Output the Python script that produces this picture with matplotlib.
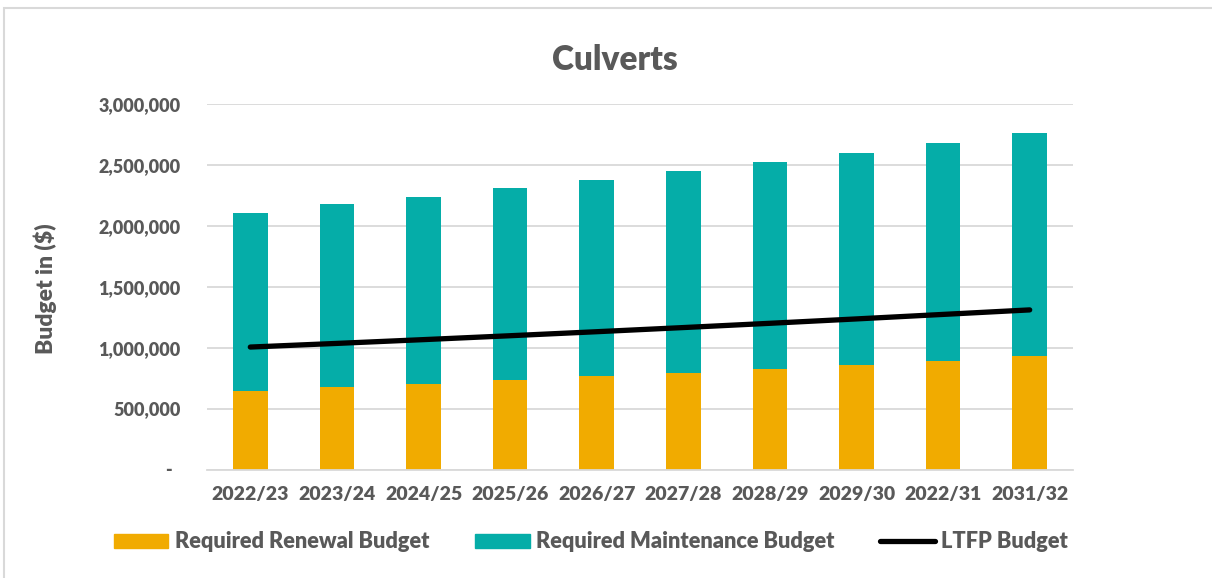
import matplotlib
matplotlib.use('Agg')
import matplotlib.pyplot as plt
from matplotlib.ticker import FuncFormatter, MultipleLocator
from matplotlib.patches import Rectangle
from matplotlib.lines import Line2D
import matplotlib.patches as mpatches

# Budget figures per financial year
years = ['2022/23', '2023/24', '2024/25', '2025/26', '2026/27',
         '2027/28', '2028/29', '2029/30', '2022/31', '2031/32']
renewal = [643000, 676000, 703000, 731000, 764000,
           793000, 824000, 857000, 889000, 928000]
maintenance = [1464000, 1500000, 1536000, 1577000, 1614000,
               1657000, 1700000, 1741000, 1788000, 1831000]
ltfp = [1005000, 1035000, 1066000, 1098000, 1131000,
        1165000, 1200000, 1236000, 1273000, 1310000]

orange = '#F1AB00'
teal = '#05ADA8'
grey_text = '#595959'
grid_col = '#D9D9D9'
weight = 800

plt.rcParams['font.family'] = ['Lato', 'DejaVu Sans']
plt.rcParams['font.weight'] = weight

fig = plt.figure(figsize=(12.12, 5.78), dpi=100, facecolor='white')
ax = fig.add_axes([207/1212, 1 - 469.5/578, 866/1212, 365.5/578])

# chart frame
fig.patches.append(Rectangle((4/1212, -0.1), 1.2, (578 - 8)/578 + 0.1,
                             transform=fig.transFigure, fill=False,
                             edgecolor='#D9D9D9', linewidth=1.5, zorder=0))

x = range(len(years))
ax.bar(x, renewal, width=0.4, color=orange, zorder=2)
ax.bar(x, maintenance, width=0.4, bottom=renewal, color=teal, zorder=2)
ax.plot(x, ltfp, color='black', linewidth=3.8, solid_capstyle='round', zorder=3)

ax.set_xlim(-0.5, len(years) - 0.5)
ax.set_ylim(0, 3000000)
ax.yaxis.set_major_locator(MultipleLocator(500000))
ax.yaxis.set_major_formatter(FuncFormatter(lambda v, p: '-  ' if v == 0 else f'{v:,.0f}'))
ax.set_xticks(list(x))
ax.set_xticklabels(years)

ax.grid(axis='y', color=grid_col, linewidth=1.3, zorder=0)
ax.set_axisbelow(True)
for s in ['top', 'right', 'left']:
    ax.spines[s].set_visible(False)
ax.spines['bottom'].set_color(grid_col)
ax.spines['bottom'].set_linewidth(1.3)
ax.tick_params(axis='both', length=0, labelcolor=grey_text)
ax.tick_params(axis='y', pad=19, labelsize=13)
ax.tick_params(axis='x', pad=12, labelsize=14)
for lbl in ax.get_xticklabels() + ax.get_yticklabels():
    lbl.set_fontweight(weight)

# axis title and chart title
fig.text(45/1212, 1 - 289/578, 'Budget in ($)', rotation=90, ha='center', va='center',
         fontsize=16.5, color=grey_text, fontweight=weight)
fig.text(615/1212, 1 - 60/578, 'Culverts', ha='center', va='center',
         fontsize=24, color=grey_text, fontweight=weight)

handles = [mpatches.Patch(color=orange, label='Required Renewal Budget'),
           mpatches.Patch(color=teal, label='Required Maintenance Budget'),
           Line2D([0], [0], color='black', linewidth=3.8, solid_capstyle='round', label='LTFP Budget')]
leg = fig.legend(handles=handles, loc='center', bbox_to_anchor=(591/1212, 1 - 542/578),
                 ncol=3, frameon=False, fontsize=15.7, handlelength=2.5, handleheight=0.6,
                 handletextpad=0.3, columnspacing=2.1)
for t in leg.get_texts():
    t.set_color(grey_text)
    t.set_fontweight(weight)

fig.savefig('out.png', dpi=100, facecolor='white')
